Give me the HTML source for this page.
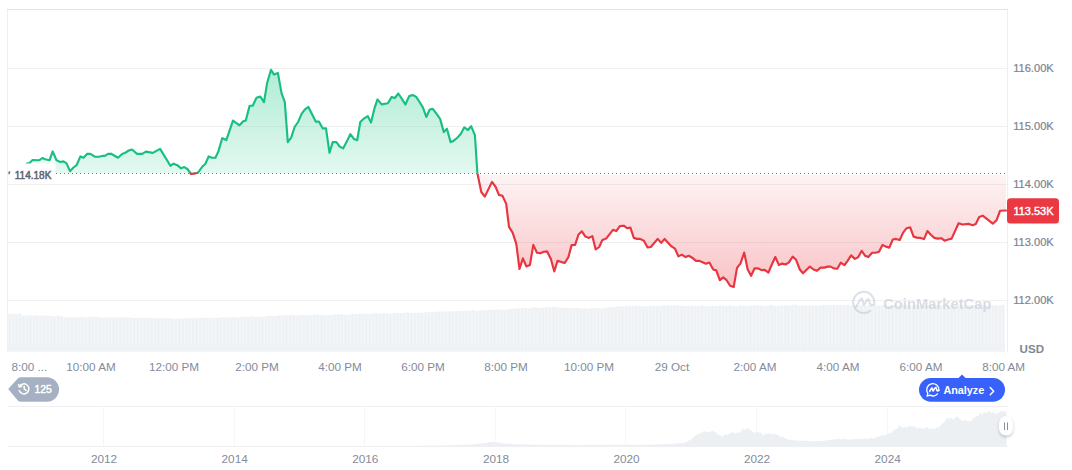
<!DOCTYPE html>
<html><head><meta charset="utf-8"><title>Chart</title>
<style>
html,body{margin:0;padding:0;background:#fff;}
body{width:1072px;height:470px;overflow:hidden;font-family:"Liberation Sans",sans-serif;}
svg{display:block;font-family:"Liberation Sans",sans-serif;}
</style></head><body>
<svg width="1072" height="470" viewBox="0 0 1072 470">
<defs>
<linearGradient id="gg" gradientUnits="userSpaceOnUse" x1="0" y1="68" x2="0" y2="173.6">
<stop offset="0" stop-color="#16c784" stop-opacity="0.34"/><stop offset="1" stop-color="#16c784" stop-opacity="0.12"/></linearGradient>
<linearGradient id="rg" gradientUnits="userSpaceOnUse" x1="0" y1="173.6" x2="0" y2="290">
<stop offset="0" stop-color="#ea3943" stop-opacity="0.055"/><stop offset="1" stop-color="#ea3943" stop-opacity="0.31"/></linearGradient>
<clipPath id="up"><rect x="0" y="0" width="1072" height="173.6"/></clipPath>
<clipPath id="dn"><rect x="0" y="173.6" width="1072" height="300"/></clipPath>
<clipPath id="upa"><rect x="0" y="0" width="1072" height="173"/></clipPath>
<clipPath id="dna"><rect x="0" y="174.7" width="1072" height="300"/></clipPath>
<path id="vol" d="M7.5,351.6 L7.50,314.08 L10.96,314.08 L10.96,313.83 L14.43,313.83 L14.43,314.24 L17.89,314.24 L17.89,313.58 L21.35,313.58 L21.35,315.54 L24.81,315.54 L24.81,315.41 L28.27,315.41 L28.28,315.15 L31.74,315.15 L31.74,315.65 L35.20,315.65 L35.20,315.23 L38.66,315.23 L38.66,315.67 L42.12,315.67 L42.12,315.35 L45.59,315.35 L45.59,315.42 L49.05,315.42 L49.05,315.80 L52.51,315.80 L52.51,316.25 L55.98,316.25 L55.98,315.59 L59.44,315.59 L59.44,316.02 L62.90,316.02 L62.90,317.13 L66.36,317.13 L66.36,317.48 L69.83,317.48 L69.83,317.14 L73.29,317.14 L73.29,317.00 L76.75,317.00 L76.75,317.61 L80.21,317.61 L80.21,316.71 L83.68,316.71 L83.68,317.55 L87.14,317.55 L87.14,317.01 L90.60,317.01 L90.60,316.90 L94.06,316.90 L94.06,316.90 L97.53,316.90 L97.53,317.12 L100.99,317.12 L100.99,317.66 L104.45,317.66 L104.45,317.06 L107.91,317.06 L107.91,317.49 L111.38,317.49 L111.38,317.58 L114.84,317.58 L114.84,317.34 L118.30,317.34 L118.30,317.55 L121.76,317.55 L121.76,317.12 L125.23,317.12 L125.23,317.18 L128.69,317.18 L128.69,317.38 L132.15,317.38 L132.15,317.91 L135.61,317.91 L135.61,317.72 L139.08,317.72 L139.08,317.66 L142.54,317.66 L142.54,317.99 L146.00,317.99 L146.00,317.92 L149.46,317.92 L149.46,317.82 L152.93,317.82 L152.93,318.37 L156.39,318.37 L156.39,318.33 L159.85,318.33 L159.85,317.94 L163.31,317.94 L163.31,318.33 L166.78,318.33 L166.78,318.33 L170.24,318.33 L170.24,318.74 L173.70,318.74 L173.70,318.65 L177.16,318.65 L177.16,318.27 L180.63,318.27 L180.63,318.92 L184.09,318.92 L184.09,317.97 L187.55,317.97 L187.55,318.19 L191.01,318.19 L191.01,318.44 L194.48,318.44 L194.48,317.75 L197.94,317.75 L197.94,318.00 L201.40,318.00 L201.40,317.46 L204.86,317.46 L204.86,318.00 L208.33,318.00 L208.33,318.01 L211.79,318.01 L211.79,317.74 L215.25,317.74 L215.25,317.95 L218.71,317.95 L218.71,317.30 L222.18,317.30 L222.18,317.60 L225.64,317.60 L225.64,317.41 L229.10,317.41 L229.10,317.31 L232.56,317.31 L232.56,317.10 L236.03,317.10 L236.03,317.40 L239.49,317.40 L239.49,317.41 L242.95,317.41 L242.95,316.86 L246.41,316.86 L246.41,316.96 L249.88,316.96 L249.88,316.27 L253.34,316.27 L253.34,316.82 L256.80,316.82 L256.80,316.68 L260.26,316.68 L260.26,316.92 L263.73,316.92 L263.73,316.62 L267.19,316.62 L267.19,315.95 L270.65,315.95 L270.65,315.92 L274.11,315.92 L274.11,316.07 L277.57,316.07 L277.58,315.30 L281.04,315.30 L281.04,315.61 L284.50,315.61 L284.50,315.18 L287.96,315.18 L287.96,315.00 L291.43,315.00 L291.43,314.82 L294.89,314.82 L294.89,315.40 L298.35,315.40 L298.35,314.63 L301.81,314.63 L301.81,314.70 L305.28,314.70 L305.28,314.80 L308.74,314.80 L308.74,315.24 L312.20,315.24 L312.20,314.41 L315.66,314.41 L315.66,314.74 L319.12,314.74 L319.13,314.79 L322.59,314.79 L322.59,315.08 L326.05,315.08 L326.05,314.98 L329.51,314.98 L329.51,314.98 L332.98,314.98 L332.98,314.35 L336.44,314.35 L336.44,314.45 L339.90,314.45 L339.90,314.35 L343.36,314.35 L343.36,314.83 L346.82,314.83 L346.83,314.86 L350.29,314.86 L350.29,314.01 L353.75,314.01 L353.75,313.99 L357.21,313.99 L357.21,313.97 L360.68,313.97 L360.68,313.86 L364.14,313.86 L364.14,314.00 L367.60,314.00 L367.60,313.99 L371.06,313.99 L371.06,313.56 L374.53,313.56 L374.53,313.19 L377.99,313.19 L377.99,313.49 L381.45,313.49 L381.45,313.33 L384.91,313.33 L384.91,313.42 L388.38,313.42 L388.38,313.69 L391.84,313.69 L391.84,313.32 L395.30,313.32 L395.30,313.03 L398.76,313.03 L398.76,313.03 L402.23,313.03 L402.23,312.97 L405.69,312.97 L405.69,312.25 L409.15,312.25 L409.15,313.02 L412.61,313.02 L412.61,312.82 L416.08,312.82 L416.08,312.85 L419.54,312.85 L419.54,312.70 L423.00,312.70 L423.00,312.22 L426.46,312.22 L426.46,312.15 L429.93,312.15 L429.93,311.78 L433.39,311.78 L433.39,312.24 L436.85,312.24 L436.85,311.59 L440.31,311.59 L440.31,311.50 L443.78,311.50 L443.78,311.53 L447.24,311.53 L447.24,311.36 L450.70,311.36 L450.70,311.43 L454.16,311.43 L454.16,311.02 L457.62,311.02 L457.63,310.86 L461.09,310.86 L461.09,310.89 L464.55,310.89 L464.55,310.73 L468.01,310.73 L468.01,310.87 L471.48,310.87 L471.48,310.37 L474.94,310.37 L474.94,311.04 L478.40,311.04 L478.40,310.61 L481.86,310.61 L481.86,309.97 L485.33,309.97 L485.33,309.90 L488.79,309.90 L488.79,309.82 L492.25,309.82 L492.25,309.67 L495.71,309.67 L495.71,309.25 L499.18,309.25 L499.18,309.81 L502.64,309.81 L502.64,309.79 L506.10,309.79 L506.10,309.10 L509.56,309.10 L509.56,308.95 L513.03,308.95 L513.03,308.39 L516.49,308.39 L516.49,308.24 L519.95,308.24 L519.95,308.30 L523.41,308.30 L523.41,308.04 L526.88,308.04 L526.88,308.42 L530.34,308.42 L530.34,307.58 L533.80,307.58 L533.80,307.26 L537.26,307.26 L537.26,308.00 L540.73,308.00 L540.73,307.46 L544.19,307.46 L544.19,306.97 L547.65,306.97 L547.65,307.27 L551.11,307.27 L551.11,306.65 L554.58,306.65 L554.58,307.05 L558.04,307.05 L558.04,307.66 L561.50,307.66 L561.50,307.78 L564.96,307.78 L564.96,307.84 L568.43,307.84 L568.43,307.64 L571.89,307.64 L571.89,307.97 L575.35,307.97 L575.35,307.91 L578.81,307.91 L578.81,308.58 L582.28,308.58 L582.28,308.41 L585.74,308.41 L585.74,308.73 L589.20,308.73 L589.20,308.27 L592.66,308.27 L592.66,307.93 L596.12,307.93 L596.13,308.29 L599.59,308.29 L599.59,308.23 L603.05,308.23 L603.05,307.87 L606.51,307.87 L606.51,307.59 L609.98,307.59 L609.98,307.37 L613.44,307.37 L613.44,307.06 L616.90,307.06 L616.90,306.32 L620.36,306.32 L620.36,306.46 L623.83,306.46 L623.83,306.21 L627.29,306.21 L627.29,305.79 L630.75,305.79 L630.75,305.69 L634.21,305.69 L634.21,305.85 L637.68,305.85 L637.68,305.73 L641.14,305.73 L641.14,306.07 L644.60,306.07 L644.60,306.24 L648.06,306.24 L648.06,305.64 L651.53,305.64 L651.53,306.04 L654.99,306.04 L654.99,306.00 L658.45,306.00 L658.45,305.97 L661.91,305.97 L661.91,305.40 L665.38,305.40 L665.38,305.27 L668.84,305.27 L668.84,305.30 L672.30,305.30 L672.30,305.29 L675.76,305.29 L675.76,305.31 L679.23,305.31 L679.23,305.75 L682.69,305.75 L682.69,306.04 L686.15,306.04 L686.15,306.00 L689.61,306.00 L689.61,305.66 L693.08,305.66 L693.08,305.85 L696.54,305.85 L696.54,306.02 L700.00,306.02 L700.00,305.32 L703.46,305.32 L703.46,305.91 L706.93,305.91 L706.93,306.18 L710.39,306.18 L710.39,306.07 L713.85,306.07 L713.85,306.04 L717.31,306.04 L717.31,305.75 L720.78,305.75 L720.78,305.43 L724.24,305.43 L724.24,306.02 L727.70,306.02 L727.70,305.54 L731.16,305.54 L731.16,305.99 L734.62,305.99 L734.63,306.14 L738.09,306.14 L738.09,305.55 L741.55,305.55 L741.55,305.53 L745.01,305.53 L745.01,306.06 L748.48,306.06 L748.48,305.81 L751.94,305.81 L751.94,305.24 L755.40,305.24 L755.40,305.18 L758.86,305.18 L758.86,305.18 L762.33,305.18 L762.33,305.91 L765.79,305.91 L765.79,305.80 L769.25,305.80 L769.25,305.11 L772.71,305.11 L772.71,305.78 L776.18,305.78 L776.18,305.91 L779.64,305.91 L779.64,305.57 L783.10,305.57 L783.10,305.24 L786.56,305.24 L786.56,305.42 L790.03,305.42 L790.03,304.98 L793.49,304.98 L793.49,304.84 L796.95,304.84 L796.95,305.78 L800.41,305.78 L800.41,305.45 L803.88,305.45 L803.88,305.32 L807.34,305.32 L807.34,305.72 L810.80,305.72 L810.80,305.22 L814.26,305.22 L814.26,305.66 L817.73,305.66 L817.73,305.61 L821.19,305.61 L821.19,304.99 L824.65,304.99 L824.65,305.03 L828.11,305.03 L828.11,305.06 L831.58,305.06 L831.58,305.01 L835.04,305.01 L835.04,305.35 L838.50,305.35 L838.50,305.02 L841.96,305.02 L841.96,305.18 L845.43,305.18 L845.43,304.88 L848.89,304.88 L848.89,305.66 L852.35,305.66 L852.35,305.10 L855.81,305.10 L855.81,305.20 L859.28,305.20 L859.28,305.32 L862.74,305.32 L862.74,305.64 L866.20,305.64 L866.20,305.15 L869.66,305.15 L869.66,305.65 L873.13,305.65 L873.13,305.23 L876.59,305.23 L876.59,305.25 L880.05,305.25 L880.05,305.24 L883.51,305.24 L883.51,304.73 L886.98,304.73 L886.98,305.15 L890.44,305.15 L890.44,304.89 L893.90,304.89 L893.90,304.71 L897.36,304.71 L897.36,305.50 L900.83,305.50 L900.83,304.87 L904.29,304.87 L904.29,305.16 L907.75,305.16 L907.75,305.41 L911.21,305.41 L911.21,305.23 L914.68,305.23 L914.68,304.99 L918.14,304.99 L918.14,305.18 L921.60,305.18 L921.60,305.21 L925.06,305.21 L925.06,305.43 L928.53,305.43 L928.53,304.75 L931.99,304.75 L931.99,305.20 L935.45,305.20 L935.45,304.88 L938.91,304.88 L938.91,304.90 L942.38,304.90 L942.38,305.39 L945.84,305.39 L945.84,305.12 L949.30,305.12 L949.30,305.16 L952.76,305.16 L952.76,305.36 L956.23,305.36 L956.23,305.50 L959.69,305.50 L959.69,305.03 L963.15,305.03 L963.15,305.19 L966.61,305.19 L966.61,305.08 L970.08,305.08 L970.08,305.07 L973.54,305.07 L973.54,305.25 L977.00,305.25 L977.00,305.00 L980.46,305.00 L980.46,305.08 L983.93,305.08 L983.93,305.01 L987.39,305.01 L987.39,305.47 L990.85,305.47 L990.85,305.22 L994.31,305.22 L994.31,305.39 L997.78,305.39 L997.78,305.45 L1001.24,305.45 L1001.24,304.76 L1004.70,304.76 L1004.7,351.6 Z"/>
<pattern id="stripes" x="7.5" y="0" width="3.4625" height="60" patternUnits="userSpaceOnUse"><rect x="0" y="0" width="0.7" height="60" fill="#fff" opacity="0.45"/></pattern>
</defs>
<rect width="1072" height="470" fill="#fff"/>
<!-- frame -->
<g stroke="#f0f0f1" stroke-width="1" shape-rendering="crispEdges">
<line x1="8" x2="1007" y1="68.5" y2="68.5"/>
<line x1="8" x2="1007" y1="126.5" y2="126.5"/>
<line x1="8" x2="1007" y1="184.5" y2="184.5"/>
<line x1="8" x2="1007" y1="242.5" y2="242.5"/>
<line x1="8" x2="1007" y1="300.5" y2="300.5"/>
</g>
<rect x="7" y="9" width="1001" height="1" fill="#e3e3e4"/>
<rect x="7" y="10" width="1" height="342" fill="#eeeeef"/>
<rect x="1007" y="10" width="1" height="342" fill="#eeeeef"/>
<!-- volume -->
<use href="#vol" fill="#eff2f5"/>
<use href="#vol" fill="url(#stripes)"/>
<rect x="8" y="344" width="997" height="7.6" fill="#eff2f5" opacity="0.7"/>
<!-- areas -->
<path id="ar" d="M10,172.2 L11,172 L14.5,171 L18,169.5 L21.5,168 L25.4,165.6 L27.2,163.3 L29.5,163 L32.6,160 L39.5,160.2 L42.4,158 L45,159.2 L49.6,160.2 L52.7,151.4 L56.5,160.2 L60.3,162 L63.4,161.4 L66.6,163.3 L70,171.2 L73.5,167.5 L76.6,165.2 L80.4,156.4 L83.5,157.7 L87.3,153.7 L90.4,153.9 L94.8,156.7 L99.2,156.7 L103,155.8 L104.9,155.8 L108,153.9 L111.1,153.7 L118,157.7 L122.4,153.7 L124.3,153.3 L128.7,150.5 L131.9,149.5 L134,151.2 L137.1,153.9 L142.2,153.9 L145.9,151.6 L152.8,152.9 L160.1,148.9 L170.4,165.8 L173.6,163.7 L177.3,165.2 L181.1,168.3 L184.2,167.1 L187.4,169 L191.1,174 L196.8,173 L198,172.7 L202.4,166.5 L205.3,164 L208.7,156.4 L211.9,157.7 L215.4,157.7 L218.4,151.4 L222.2,138.2 L226.3,140.1 L233,120.6 L239.5,125.3 L243.3,121.3 L245.8,120.4 L249.6,105.7 L252.7,105.7 L256.5,97.8 L260.3,96.5 L264,102.2 L267.2,82.7 L271,69.8 L274.1,74.6 L277.9,73 L281.6,93.4 L284.8,102.2 L287.8,142.1 L291.2,137.7 L294.6,127 L298.1,122 L301.7,113.6 L305,109.4 L308.4,106.9 L315.7,121.6 L318.9,121.6 L322.6,128.3 L326,128.3 L329.5,152.8 L332.7,142.1 L336.4,142.1 L339.6,146.5 L343.1,148.4 L346.5,142.1 L350.3,134.2 L354,139 L357.2,140.2 L360.3,122 L363.4,118.9 L367.8,116.1 L371,122.6 L374.5,108.2 L377.5,99.4 L381.6,104.4 L387.9,103.2 L391.7,96.9 L394.8,98.1 L398.3,93.5 L401.4,98.2 L405.4,104.5 L409.2,96.1 L412.7,95 L416.2,96.9 L419.6,102 L423,107.6 L426.3,117 L429.7,109.5 L432.8,108.9 L436.6,113.9 L440.1,118.9 L443.8,132.1 L446.9,128.7 L450.6,142.1 L453.5,140.9 L457.3,137.7 L460.7,134 L464.2,127.4 L468,130 L471.1,126.2 L474.9,135.2 L477.4,173.3 L481.3,192 L484.8,196.6 L492,181.9 L495.7,187 L498.9,194.9 L502.4,195.7 L506.2,203.9 L509,226.9 L512.6,232.6 L516.3,243.9 L519.5,269 L522.9,258.3 L526.4,266.5 L529.9,265 L533.3,244.9 L537,252.7 L540.2,253.3 L544,251.7 L547.1,251.4 L550.9,259 L554.3,271.5 L557.5,260.8 L561.5,262.1 L564.7,263 L568.4,257.1 L571.6,245.1 L575.1,244.9 L578.5,234.5 L581.9,231.3 L585.4,236.6 L588.9,237.9 L592.3,236.1 L595.7,249.5 L599.2,247 L602.4,239.9 L606.1,238.6 L613,229.8 L616.2,231.1 L619.9,226.1 L623.7,225.7 L627.1,228.2 L630.4,227.6 L633.8,237.9 L637,238.9 L640.1,238.9 L643.9,240.7 L647.6,247.4 L650.8,247 L657.7,238.9 L661.2,242.9 L664.6,238.9 L671.5,246.4 L675,248.7 L678.4,256.4 L681.8,254.6 L685.6,257.1 L688.8,255.8 L692.2,257.7 L696,260.8 L699.1,260.8 L706,263.7 L709.4,262.5 L713.2,269.5 L716.3,270.4 L719.8,280.2 L723.2,277.4 L726.6,280.2 L730.1,285.8 L733.7,287.1 L737,267.9 L740.4,263.6 L744.2,252.6 L747.7,269.5 L751.1,275.8 L754.6,268.3 L757.8,268.3 L761.5,270.1 L764.7,269.9 L768.4,272.7 L771.8,264.5 L775.3,257 L778.9,265.1 L782.3,263.6 L785.6,264.5 L788.9,262.4 L792.7,256.6 L796.1,259.8 L799.8,269.5 L803,273.3 L809.9,266.6 L813.6,269.5 L817,270.8 L820.6,267.6 L824.3,267.6 L827.5,266.6 L830.6,266.6 L833.8,268.4 L837.3,268.7 L840.7,262.7 L844.5,265.2 L847.6,260.8 L851.1,255.4 L854.9,258.9 L858.3,257.1 L861.7,250.8 L865.2,255.8 L868.3,257.1 L872.1,252.7 L875.5,252.7 L879,251.7 L882.5,244.9 L885.9,246.6 L889.3,247.6 L892.8,239.5 L896,238.9 L899.7,240.1 L903.1,232.6 L906.6,228.2 L910.2,227.3 L913.6,236.6 L916.9,237.6 L920.5,237.9 L924,239.1 L927.4,231.1 L930.8,234.8 L934.3,237.9 L937.8,238.6 L941.2,238.2 L944.6,240.7 L948.1,239.5 L951.6,238.6 L958.6,223.3 L962.4,224.5 L968.9,223.9 L972.7,225.2 L975.8,223.9 L979.2,217 L982.7,215.7 L992.8,223.7 L996.6,220.1 L1000.1,210.7 L1006,210.5 L1006,173.6 L10,173.6 Z" fill="url(#gg)" clip-path="url(#upa)"/>
<path d="M10,172.2 L11,172 L14.5,171 L18,169.5 L21.5,168 L25.4,165.6 L27.2,163.3 L29.5,163 L32.6,160 L39.5,160.2 L42.4,158 L45,159.2 L49.6,160.2 L52.7,151.4 L56.5,160.2 L60.3,162 L63.4,161.4 L66.6,163.3 L70,171.2 L73.5,167.5 L76.6,165.2 L80.4,156.4 L83.5,157.7 L87.3,153.7 L90.4,153.9 L94.8,156.7 L99.2,156.7 L103,155.8 L104.9,155.8 L108,153.9 L111.1,153.7 L118,157.7 L122.4,153.7 L124.3,153.3 L128.7,150.5 L131.9,149.5 L134,151.2 L137.1,153.9 L142.2,153.9 L145.9,151.6 L152.8,152.9 L160.1,148.9 L170.4,165.8 L173.6,163.7 L177.3,165.2 L181.1,168.3 L184.2,167.1 L187.4,169 L191.1,174 L196.8,173 L198,172.7 L202.4,166.5 L205.3,164 L208.7,156.4 L211.9,157.7 L215.4,157.7 L218.4,151.4 L222.2,138.2 L226.3,140.1 L233,120.6 L239.5,125.3 L243.3,121.3 L245.8,120.4 L249.6,105.7 L252.7,105.7 L256.5,97.8 L260.3,96.5 L264,102.2 L267.2,82.7 L271,69.8 L274.1,74.6 L277.9,73 L281.6,93.4 L284.8,102.2 L287.8,142.1 L291.2,137.7 L294.6,127 L298.1,122 L301.7,113.6 L305,109.4 L308.4,106.9 L315.7,121.6 L318.9,121.6 L322.6,128.3 L326,128.3 L329.5,152.8 L332.7,142.1 L336.4,142.1 L339.6,146.5 L343.1,148.4 L346.5,142.1 L350.3,134.2 L354,139 L357.2,140.2 L360.3,122 L363.4,118.9 L367.8,116.1 L371,122.6 L374.5,108.2 L377.5,99.4 L381.6,104.4 L387.9,103.2 L391.7,96.9 L394.8,98.1 L398.3,93.5 L401.4,98.2 L405.4,104.5 L409.2,96.1 L412.7,95 L416.2,96.9 L419.6,102 L423,107.6 L426.3,117 L429.7,109.5 L432.8,108.9 L436.6,113.9 L440.1,118.9 L443.8,132.1 L446.9,128.7 L450.6,142.1 L453.5,140.9 L457.3,137.7 L460.7,134 L464.2,127.4 L468,130 L471.1,126.2 L474.9,135.2 L477.4,173.3 L481.3,192 L484.8,196.6 L492,181.9 L495.7,187 L498.9,194.9 L502.4,195.7 L506.2,203.9 L509,226.9 L512.6,232.6 L516.3,243.9 L519.5,269 L522.9,258.3 L526.4,266.5 L529.9,265 L533.3,244.9 L537,252.7 L540.2,253.3 L544,251.7 L547.1,251.4 L550.9,259 L554.3,271.5 L557.5,260.8 L561.5,262.1 L564.7,263 L568.4,257.1 L571.6,245.1 L575.1,244.9 L578.5,234.5 L581.9,231.3 L585.4,236.6 L588.9,237.9 L592.3,236.1 L595.7,249.5 L599.2,247 L602.4,239.9 L606.1,238.6 L613,229.8 L616.2,231.1 L619.9,226.1 L623.7,225.7 L627.1,228.2 L630.4,227.6 L633.8,237.9 L637,238.9 L640.1,238.9 L643.9,240.7 L647.6,247.4 L650.8,247 L657.7,238.9 L661.2,242.9 L664.6,238.9 L671.5,246.4 L675,248.7 L678.4,256.4 L681.8,254.6 L685.6,257.1 L688.8,255.8 L692.2,257.7 L696,260.8 L699.1,260.8 L706,263.7 L709.4,262.5 L713.2,269.5 L716.3,270.4 L719.8,280.2 L723.2,277.4 L726.6,280.2 L730.1,285.8 L733.7,287.1 L737,267.9 L740.4,263.6 L744.2,252.6 L747.7,269.5 L751.1,275.8 L754.6,268.3 L757.8,268.3 L761.5,270.1 L764.7,269.9 L768.4,272.7 L771.8,264.5 L775.3,257 L778.9,265.1 L782.3,263.6 L785.6,264.5 L788.9,262.4 L792.7,256.6 L796.1,259.8 L799.8,269.5 L803,273.3 L809.9,266.6 L813.6,269.5 L817,270.8 L820.6,267.6 L824.3,267.6 L827.5,266.6 L830.6,266.6 L833.8,268.4 L837.3,268.7 L840.7,262.7 L844.5,265.2 L847.6,260.8 L851.1,255.4 L854.9,258.9 L858.3,257.1 L861.7,250.8 L865.2,255.8 L868.3,257.1 L872.1,252.7 L875.5,252.7 L879,251.7 L882.5,244.9 L885.9,246.6 L889.3,247.6 L892.8,239.5 L896,238.9 L899.7,240.1 L903.1,232.6 L906.6,228.2 L910.2,227.3 L913.6,236.6 L916.9,237.6 L920.5,237.9 L924,239.1 L927.4,231.1 L930.8,234.8 L934.3,237.9 L937.8,238.6 L941.2,238.2 L944.6,240.7 L948.1,239.5 L951.6,238.6 L958.6,223.3 L962.4,224.5 L968.9,223.9 L972.7,225.2 L975.8,223.9 L979.2,217 L982.7,215.7 L992.8,223.7 L996.6,220.1 L1000.1,210.7 L1006,210.5 L1006,173.6 L10,173.6 Z" fill="url(#rg)" clip-path="url(#dna)"/>
<rect x="8" y="150" width="47.5" height="15" fill="#fff" opacity="0.5"/>
<!-- baseline dotted -->
<line x1="8" x2="1006" y1="173.5" y2="173.5" stroke="#74777f" stroke-width="1" stroke-dasharray="1 3" shape-rendering="crispEdges"/>
<!-- lines -->
<path d="M10,172.2 L11,172 L14.5,171 L18,169.5 L21.5,168 L25.4,165.6 L27.2,163.3 L29.5,163 L32.6,160 L39.5,160.2 L42.4,158 L45,159.2 L49.6,160.2 L52.7,151.4 L56.5,160.2 L60.3,162 L63.4,161.4 L66.6,163.3 L70,171.2 L73.5,167.5 L76.6,165.2 L80.4,156.4 L83.5,157.7 L87.3,153.7 L90.4,153.9 L94.8,156.7 L99.2,156.7 L103,155.8 L104.9,155.8 L108,153.9 L111.1,153.7 L118,157.7 L122.4,153.7 L124.3,153.3 L128.7,150.5 L131.9,149.5 L134,151.2 L137.1,153.9 L142.2,153.9 L145.9,151.6 L152.8,152.9 L160.1,148.9 L170.4,165.8 L173.6,163.7 L177.3,165.2 L181.1,168.3 L184.2,167.1 L187.4,169 L191.1,174 L196.8,173 L198,172.7 L202.4,166.5 L205.3,164 L208.7,156.4 L211.9,157.7 L215.4,157.7 L218.4,151.4 L222.2,138.2 L226.3,140.1 L233,120.6 L239.5,125.3 L243.3,121.3 L245.8,120.4 L249.6,105.7 L252.7,105.7 L256.5,97.8 L260.3,96.5 L264,102.2 L267.2,82.7 L271,69.8 L274.1,74.6 L277.9,73 L281.6,93.4 L284.8,102.2 L287.8,142.1 L291.2,137.7 L294.6,127 L298.1,122 L301.7,113.6 L305,109.4 L308.4,106.9 L315.7,121.6 L318.9,121.6 L322.6,128.3 L326,128.3 L329.5,152.8 L332.7,142.1 L336.4,142.1 L339.6,146.5 L343.1,148.4 L346.5,142.1 L350.3,134.2 L354,139 L357.2,140.2 L360.3,122 L363.4,118.9 L367.8,116.1 L371,122.6 L374.5,108.2 L377.5,99.4 L381.6,104.4 L387.9,103.2 L391.7,96.9 L394.8,98.1 L398.3,93.5 L401.4,98.2 L405.4,104.5 L409.2,96.1 L412.7,95 L416.2,96.9 L419.6,102 L423,107.6 L426.3,117 L429.7,109.5 L432.8,108.9 L436.6,113.9 L440.1,118.9 L443.8,132.1 L446.9,128.7 L450.6,142.1 L453.5,140.9 L457.3,137.7 L460.7,134 L464.2,127.4 L468,130 L471.1,126.2 L474.9,135.2 L477.4,173.3 L481.3,192 L484.8,196.6 L492,181.9 L495.7,187 L498.9,194.9 L502.4,195.7 L506.2,203.9 L509,226.9 L512.6,232.6 L516.3,243.9 L519.5,269 L522.9,258.3 L526.4,266.5 L529.9,265 L533.3,244.9 L537,252.7 L540.2,253.3 L544,251.7 L547.1,251.4 L550.9,259 L554.3,271.5 L557.5,260.8 L561.5,262.1 L564.7,263 L568.4,257.1 L571.6,245.1 L575.1,244.9 L578.5,234.5 L581.9,231.3 L585.4,236.6 L588.9,237.9 L592.3,236.1 L595.7,249.5 L599.2,247 L602.4,239.9 L606.1,238.6 L613,229.8 L616.2,231.1 L619.9,226.1 L623.7,225.7 L627.1,228.2 L630.4,227.6 L633.8,237.9 L637,238.9 L640.1,238.9 L643.9,240.7 L647.6,247.4 L650.8,247 L657.7,238.9 L661.2,242.9 L664.6,238.9 L671.5,246.4 L675,248.7 L678.4,256.4 L681.8,254.6 L685.6,257.1 L688.8,255.8 L692.2,257.7 L696,260.8 L699.1,260.8 L706,263.7 L709.4,262.5 L713.2,269.5 L716.3,270.4 L719.8,280.2 L723.2,277.4 L726.6,280.2 L730.1,285.8 L733.7,287.1 L737,267.9 L740.4,263.6 L744.2,252.6 L747.7,269.5 L751.1,275.8 L754.6,268.3 L757.8,268.3 L761.5,270.1 L764.7,269.9 L768.4,272.7 L771.8,264.5 L775.3,257 L778.9,265.1 L782.3,263.6 L785.6,264.5 L788.9,262.4 L792.7,256.6 L796.1,259.8 L799.8,269.5 L803,273.3 L809.9,266.6 L813.6,269.5 L817,270.8 L820.6,267.6 L824.3,267.6 L827.5,266.6 L830.6,266.6 L833.8,268.4 L837.3,268.7 L840.7,262.7 L844.5,265.2 L847.6,260.8 L851.1,255.4 L854.9,258.9 L858.3,257.1 L861.7,250.8 L865.2,255.8 L868.3,257.1 L872.1,252.7 L875.5,252.7 L879,251.7 L882.5,244.9 L885.9,246.6 L889.3,247.6 L892.8,239.5 L896,238.9 L899.7,240.1 L903.1,232.6 L906.6,228.2 L910.2,227.3 L913.6,236.6 L916.9,237.6 L920.5,237.9 L924,239.1 L927.4,231.1 L930.8,234.8 L934.3,237.9 L937.8,238.6 L941.2,238.2 L944.6,240.7 L948.1,239.5 L951.6,238.6 L958.6,223.3 L962.4,224.5 L968.9,223.9 L972.7,225.2 L975.8,223.9 L979.2,217 L982.7,215.7 L992.8,223.7 L996.6,220.1 L1000.1,210.7 L1006,210.5" fill="none" stroke="#17c081" stroke-width="2.15" stroke-linejoin="round" stroke-linecap="round" clip-path="url(#up)"/>
<path d="M10,172.2 L11,172 L14.5,171 L18,169.5 L21.5,168 L25.4,165.6 L27.2,163.3 L29.5,163 L32.6,160 L39.5,160.2 L42.4,158 L45,159.2 L49.6,160.2 L52.7,151.4 L56.5,160.2 L60.3,162 L63.4,161.4 L66.6,163.3 L70,171.2 L73.5,167.5 L76.6,165.2 L80.4,156.4 L83.5,157.7 L87.3,153.7 L90.4,153.9 L94.8,156.7 L99.2,156.7 L103,155.8 L104.9,155.8 L108,153.9 L111.1,153.7 L118,157.7 L122.4,153.7 L124.3,153.3 L128.7,150.5 L131.9,149.5 L134,151.2 L137.1,153.9 L142.2,153.9 L145.9,151.6 L152.8,152.9 L160.1,148.9 L170.4,165.8 L173.6,163.7 L177.3,165.2 L181.1,168.3 L184.2,167.1 L187.4,169 L191.1,174 L196.8,173 L198,172.7 L202.4,166.5 L205.3,164 L208.7,156.4 L211.9,157.7 L215.4,157.7 L218.4,151.4 L222.2,138.2 L226.3,140.1 L233,120.6 L239.5,125.3 L243.3,121.3 L245.8,120.4 L249.6,105.7 L252.7,105.7 L256.5,97.8 L260.3,96.5 L264,102.2 L267.2,82.7 L271,69.8 L274.1,74.6 L277.9,73 L281.6,93.4 L284.8,102.2 L287.8,142.1 L291.2,137.7 L294.6,127 L298.1,122 L301.7,113.6 L305,109.4 L308.4,106.9 L315.7,121.6 L318.9,121.6 L322.6,128.3 L326,128.3 L329.5,152.8 L332.7,142.1 L336.4,142.1 L339.6,146.5 L343.1,148.4 L346.5,142.1 L350.3,134.2 L354,139 L357.2,140.2 L360.3,122 L363.4,118.9 L367.8,116.1 L371,122.6 L374.5,108.2 L377.5,99.4 L381.6,104.4 L387.9,103.2 L391.7,96.9 L394.8,98.1 L398.3,93.5 L401.4,98.2 L405.4,104.5 L409.2,96.1 L412.7,95 L416.2,96.9 L419.6,102 L423,107.6 L426.3,117 L429.7,109.5 L432.8,108.9 L436.6,113.9 L440.1,118.9 L443.8,132.1 L446.9,128.7 L450.6,142.1 L453.5,140.9 L457.3,137.7 L460.7,134 L464.2,127.4 L468,130 L471.1,126.2 L474.9,135.2 L477.4,173.3 L481.3,192 L484.8,196.6 L492,181.9 L495.7,187 L498.9,194.9 L502.4,195.7 L506.2,203.9 L509,226.9 L512.6,232.6 L516.3,243.9 L519.5,269 L522.9,258.3 L526.4,266.5 L529.9,265 L533.3,244.9 L537,252.7 L540.2,253.3 L544,251.7 L547.1,251.4 L550.9,259 L554.3,271.5 L557.5,260.8 L561.5,262.1 L564.7,263 L568.4,257.1 L571.6,245.1 L575.1,244.9 L578.5,234.5 L581.9,231.3 L585.4,236.6 L588.9,237.9 L592.3,236.1 L595.7,249.5 L599.2,247 L602.4,239.9 L606.1,238.6 L613,229.8 L616.2,231.1 L619.9,226.1 L623.7,225.7 L627.1,228.2 L630.4,227.6 L633.8,237.9 L637,238.9 L640.1,238.9 L643.9,240.7 L647.6,247.4 L650.8,247 L657.7,238.9 L661.2,242.9 L664.6,238.9 L671.5,246.4 L675,248.7 L678.4,256.4 L681.8,254.6 L685.6,257.1 L688.8,255.8 L692.2,257.7 L696,260.8 L699.1,260.8 L706,263.7 L709.4,262.5 L713.2,269.5 L716.3,270.4 L719.8,280.2 L723.2,277.4 L726.6,280.2 L730.1,285.8 L733.7,287.1 L737,267.9 L740.4,263.6 L744.2,252.6 L747.7,269.5 L751.1,275.8 L754.6,268.3 L757.8,268.3 L761.5,270.1 L764.7,269.9 L768.4,272.7 L771.8,264.5 L775.3,257 L778.9,265.1 L782.3,263.6 L785.6,264.5 L788.9,262.4 L792.7,256.6 L796.1,259.8 L799.8,269.5 L803,273.3 L809.9,266.6 L813.6,269.5 L817,270.8 L820.6,267.6 L824.3,267.6 L827.5,266.6 L830.6,266.6 L833.8,268.4 L837.3,268.7 L840.7,262.7 L844.5,265.2 L847.6,260.8 L851.1,255.4 L854.9,258.9 L858.3,257.1 L861.7,250.8 L865.2,255.8 L868.3,257.1 L872.1,252.7 L875.5,252.7 L879,251.7 L882.5,244.9 L885.9,246.6 L889.3,247.6 L892.8,239.5 L896,238.9 L899.7,240.1 L903.1,232.6 L906.6,228.2 L910.2,227.3 L913.6,236.6 L916.9,237.6 L920.5,237.9 L924,239.1 L927.4,231.1 L930.8,234.8 L934.3,237.9 L937.8,238.6 L941.2,238.2 L944.6,240.7 L948.1,239.5 L951.6,238.6 L958.6,223.3 L962.4,224.5 L968.9,223.9 L972.7,225.2 L975.8,223.9 L979.2,217 L982.7,215.7 L992.8,223.7 L996.6,220.1 L1000.1,210.7 L1006,210.5" fill="none" stroke="#e8353f" stroke-width="2.15" stroke-linejoin="round" stroke-linecap="round" clip-path="url(#dn)"/>
<path d="M190.6,173.4 L191.3,174 L196.7,173.2 L197.3,173" fill="none" stroke="#d8404b" stroke-width="1.8" stroke-linejoin="round" stroke-linecap="round"/>
<!-- open label -->
<rect x="8" y="163.6" width="47.5" height="19.9" rx="2" fill="#fff"/>
<path d="M8.6,171.4 L10.6,171.4 L9.4,174.2 L8.3,174.2 Z" fill="#5f6674"/>
<text x="14.8" y="178.8" font-size="10" fill="#5f6674" stroke="#5f6674" stroke-width="0.5">114.18K</text>
<!-- y labels -->
<g font-size="11.1" fill="#7b8392" stroke="#7b8392" stroke-width="0.2">
<text x="1013.2" y="72">116.00K</text>
<text x="1013.2" y="130">115.00K</text>
<text x="1013.2" y="188">114.00K</text>
<text x="1013.2" y="246">113.00K</text>
<text x="1013.2" y="304">112.00K</text>
</g>
<!-- price tag -->
<rect x="1007" y="198.3" width="52" height="25.3" rx="3.5" fill="#ea3943"/>
<text x="1013.4" y="215.2" font-size="11" fill="#fff" stroke="#fff" stroke-width="0.4">113.53K</text>
<!-- watermark -->
<g opacity="0.58" fill="none" stroke="#c3cad6" stroke-linecap="round" stroke-linejoin="round">
<path d="M874.2,304.3 A10.6,10.6 0 1 0 870.4,310.7" stroke-width="2"/>
<path d="M855.6,307.6 L860.6,299.3 Q861.7,297.6 862.3,299.6 L863.8,305.2 L866.9,300.2 Q868.2,298.2 869,300.6 L870.2,304.2 Q870.9,306 872.4,305.2 L874.2,304.3" stroke-width="2"/>
</g>
<text x="883.2" y="308.9" font-size="14.8" font-weight="bold" fill="#c3cad6" opacity="0.62" textLength="108.3" lengthAdjust="spacingAndGlyphs">CoinMarketCap</text>
<!-- USD -->
<text x="1019.6" y="352.9" font-size="11.3" font-weight="bold" fill="#7f8797" textLength="24.4" lengthAdjust="spacingAndGlyphs">USD</text>
<!-- x labels -->
<g font-size="11.7" fill="#848b99">
<text x="11.5" y="371">8:00 ...</text>
<text x="91" y="371" text-anchor="middle">10:00 AM</text>
<text x="174" y="371" text-anchor="middle">12:00 PM</text>
<text x="257" y="371" text-anchor="middle">2:00 PM</text>
<text x="340" y="371" text-anchor="middle">4:00 PM</text>
<text x="423" y="371" text-anchor="middle">6:00 PM</text>
<text x="506" y="371" text-anchor="middle">8:00 PM</text>
<text x="589" y="371" text-anchor="middle">10:00 PM</text>
<text x="672" y="371" text-anchor="middle">29 Oct</text>
<text x="755" y="371" text-anchor="middle">2:00 AM</text>
<text x="838" y="371" text-anchor="middle">4:00 AM</text>
<text x="921" y="371" text-anchor="middle">6:00 AM</text>
<text x="1003.6" y="371" text-anchor="middle">8:00 AM</text>
</g>
<!-- badge -->
<path d="M8.2,388.9 L17.8,378.5 Q18.8,377.3 21,377.3 L46.8,377.3 A12.2,12.2 0 0 1 46.8,401.7 L21,401.7 Q18.8,401.7 17.8,400.5 Z" fill="#a6b0c3"/>
<g fill="none" stroke="#fff" stroke-width="1.5" stroke-linecap="round" stroke-linejoin="round">
<path d="M19.6,386.3 A5,5 0 1 1 19.2,390.6"/>
<path d="M18.6,384.6 L19.4,386.9 L21.7,386.3"/>
<path d="M24.2,386.2 L24.2,389 L26.2,390.4"/>
</g>
<text x="34.5" y="392.8" font-size="10.4" fill="#fff" stroke="#fff" stroke-width="0.45">125</text>
<!-- analyze -->
<path d="M958,378.5 L962,374.4 L966,378.5 Z" fill="#3861fb"/>
<rect x="919" y="378" width="86" height="23.7" rx="11.85" fill="#3861fb"/>
<g fill="none" stroke="#fff" stroke-width="1.3" stroke-linecap="round" stroke-linejoin="round">
<path d="M938.9,390.3 A6.1,6.1 0 1 0 927.9,393.4 L927,396.1 L930.3,395.2 A6.1,6.1 0 0 0 937.5,393.9" stroke-width="1.35"/>
<path d="M929.7,391.3 L931.9,387.9 L933.1,391 L935.1,387.8 Q936,386.9 936.4,388.5 L936.9,390.3 Q937.4,391.4 938.9,390.3" stroke-width="1.6"/>
</g>
<text x="943.4" y="393.8" font-size="10.4" font-weight="bold" fill="#fff" textLength="40.9" lengthAdjust="spacingAndGlyphs">Analyze</text>
<path d="M990.2,387.6 L993.7,391.2 L990.2,394.8" fill="none" stroke="#fff" stroke-width="1.5" stroke-linecap="round" stroke-linejoin="round"/>
<!-- navigator -->
<rect x="8" y="406" width="1000" height="1" fill="#f0f0f2"/>
<rect x="8" y="446" width="1000" height="1" fill="#eef0f3"/>
<g stroke="#f4f6f8" stroke-width="1" shape-rendering="crispEdges">
<line x1="103.5" x2="103.5" y1="407" y2="446"/>
<line x1="234.5" x2="234.5" y1="407" y2="446"/>
<line x1="364.5" x2="364.5" y1="407" y2="446"/>
<line x1="495.5" x2="495.5" y1="407" y2="446"/>
<line x1="625.5" x2="625.5" y1="407" y2="446"/>
<line x1="756.5" x2="756.5" y1="407" y2="446"/>
<line x1="887.5" x2="887.5" y1="407" y2="446"/>
</g>
<path d="M8,446.5 L8,446.3 L300,446.3 L380,446.1 L440,445.57 L441.3,445.56 L442.6,445.49 L443.9,445.49 L445.2,445.45 L446.5,445.31 L447.8,445.26 L449.1,445.36 L450.4,445.21 L451.7,445.16 L453,445.27 L454.3,445.12 L455.6,445.15 L456.9,445.03 L458.2,445.03 L459.5,444.87 L460.8,444.94 L462.1,444.96 L463.4,444.83 L464.7,444.84 L466,444.78 L467.3,444.56 L468.6,444.72 L469.9,444.63 L471.2,444.41 L472.5,444.17 L473.8,444.33 L475.1,444.04 L476.4,444.01 L477.7,443.95 L479,443.74 L480.3,443.71 L481.6,443.31 L482.9,443.39 L484.2,443.05 L485.5,443.18 L486.8,442.94 L488.1,442.19 L489.4,441.98 L490.7,441.8 L492,442.18 L493.3,441.93 L494.6,442.26 L495.9,442.2 L497.2,442.53 L498.5,442.61 L499.8,442.76 L501.1,443.06 L502.4,443.22 L503.7,443.55 L505,443.59 L506.3,443.78 L507.6,443.81 L508.9,443.94 L510.2,443.86 L511.5,443.7 L512.8,444.07 L514.1,444.18 L515.4,444.22 L516.7,444.15 L518,444.27 L519.3,444.16 L520.6,444.43 L521.9,444.36 L523.2,444.29 L524.5,444.24 L525.8,444.54 L527.1,444.61 L528.4,444.33 L529.7,444.59 L531,444.49 L532.3,444.44 L533.6,444.51 L534.9,444.68 L536.2,444.74 L537.5,444.51 L538.8,444.71 L540.1,444.57 L541.4,444.79 L542.7,444.71 L544,444.88 L545.3,444.93 L546.6,444.82 L547.9,444.96 L549.2,444.8 L550.5,444.75 L551.8,444.9 L553.1,444.77 L554.4,444.83 L555.7,444.9 L557,444.96 L558.3,444.87 L559.6,444.86 L560.9,445.07 L562.2,444.95 L563.5,445.12 L564.8,445.12 L566.1,445.01 L567.4,445.05 L568.7,445.08 L570,445.12 L571.3,445.12 L572.6,445.13 L573.9,445.16 L575.2,445.24 L576.5,445.16 L577.8,445.16 L579.1,445.23 L580.4,445.14 L581.7,445.14 L583,445.27 L584.3,445.16 L585.6,445.15 L586.9,445.03 L588.2,445.1 L589.5,445.12 L590.8,444.99 L592.1,445.1 L593.4,445.1 L594.7,444.95 L596,445.07 L597.3,445.02 L598.6,445.06 L599.9,444.97 L601.2,445.03 L602.5,445.02 L603.8,444.82 L605.1,444.81 L606.4,444.94 L607.7,445 L609,444.79 L610.3,444.82 L611.6,444.84 L612.9,444.74 L614.2,444.74 L615.5,444.7 L616.8,444.69 L618.1,444.74 L619.4,444.63 L620.7,444.63 L622,444.73 L623.3,444.48 L624.6,444.63 L625.9,444.69 L627.2,444.6 L628.5,444.61 L629.8,444.81 L631.1,444.69 L632.4,444.71 L633.7,444.81 L635,444.92 L636.3,444.8 L637.6,444.89 L638.9,444.93 L640.2,445.07 L641.5,444.94 L642.8,445 L644.1,444.78 L645.4,444.78 L646.7,444.82 L648,444.84 L649.3,444.68 L650.6,444.56 L651.9,444.49 L653.2,444.57 L654.5,444.42 L655.8,444.57 L657.1,444.54 L658.4,444.27 L659.7,444.26 L661,444.4 L662.3,444.3 L663.6,444.31 L664.9,444.09 L666.2,443.96 L667.5,443.98 L668.8,444.14 L670.1,443.88 L671.4,443.86 L672.7,443.84 L674,443.8 L675.3,443.72 L676.6,443.8 L677.9,443.24 L679.2,442.98 L680.5,443.34 L681.8,443.15 L683.1,443.06 L684.4,442.53 L685.7,442.49 L687,441.87 L688.3,440.58 L689.6,440.47 L690.9,439.71 L692.2,438.48 L693.5,437.23 L694.8,435.77 L696.1,435.14 L697.4,434.24 L698.7,433.21 L700,433.7 L701.3,432.33 L702.6,432.99 L703.9,430.34 L705.2,432.09 L706.5,431.39 L707.8,431.91 L709.1,431.71 L710.4,431.75 L711.7,431.22 L713,430.09 L714.3,432.43 L715.6,431.68 L716.9,433.13 L718.2,434.92 L719.5,435.11 L720.8,435.38 L722.1,436.79 L723.4,435.8 L724.7,434.87 L726,434.29 L727.3,435.16 L728.6,433.81 L729.9,434 L731.2,432.46 L732.5,431.8 L733.8,432.76 L735.1,433.58 L736.4,432.15 L737.7,433.28 L739,432.85 L740.3,431.78 L741.6,431.23 L742.9,428.4 L744.2,429.8 L745.5,430.1 L746.8,427.64 L748.1,428.74 L749.4,429.13 L750.7,430.52 L752,431.04 L753.3,431.99 L754.6,433.28 L755.9,431.61 L757.2,431.97 L758.5,432.37 L759.8,432.6 L761.1,432.74 L762.4,435.03 L763.7,435.01 L765,433.62 L766.3,434.24 L767.6,433.57 L768.9,433.3 L770.2,433.2 L771.5,434.13 L772.8,434.25 L774.1,434.02 L775.4,433.97 L776.7,434.66 L778,434.66 L779.3,435.9 L780.6,436.67 L781.9,436.68 L783.2,436.83 L784.5,437.63 L785.8,438.53 L787.1,439.17 L788.4,439.67 L789.7,439.45 L791,440.22 L792.3,440.29 L793.6,440.25 L794.9,440.25 L796.2,440.43 L797.5,440.7 L798.8,440.47 L800.1,440.8 L801.4,440.63 L802.7,440.48 L804,440.84 L805.3,441.06 L806.6,440.52 L807.9,440.92 L809.2,440.99 L810.5,441.48 L811.8,441.59 L813.1,441.06 L814.4,441.51 L815.7,441.38 L817,440.85 L818.3,441.01 L819.6,440.65 L820.9,441.2 L822.2,440.91 L823.5,440.99 L824.8,440.75 L826.1,440.47 L827.4,440.45 L828.7,440.16 L830,439.53 L831.3,439.98 L832.6,439.2 L833.9,439.25 L835.2,439.91 L836.5,438.92 L837.8,438.86 L839.1,438.76 L840.4,439.68 L841.7,438.77 L843,438.55 L844.3,439.58 L845.6,438.64 L846.9,439.55 L848.2,439.32 L849.5,439.51 L850.8,439.65 L852.1,439.14 L853.4,439.41 L854.7,438.39 L856,439.33 L857.3,438.97 L858.6,439.21 L859.9,438.38 L861.2,439.21 L862.5,439.43 L863.8,438.23 L865.1,438.56 L866.4,438.83 L867.7,439.14 L869,438.29 L870.3,438.15 L871.6,438.19 L872.9,438.61 L874.2,438.46 L875.5,437.57 L876.8,437.16 L878.1,436.85 L879.4,436.4 L880.7,436.13 L882,435.09 L883.3,435.47 L884.6,436.02 L885.9,434.47 L887.2,434.79 L888.5,432.93 L889.8,433.38 L891.1,432.79 L892.4,431.83 L893.7,430.51 L895,429.42 L896.3,428.93 L897.6,428.75 L898.9,425.35 L900.2,425.23 L901.5,427.44 L902.8,428.11 L904.1,426.97 L905.4,426.81 L906.7,427.68 L908,425.96 L909.3,426.21 L910.6,425.98 L911.9,427.2 L913.2,426.32 L914.5,426.04 L915.8,427.77 L917.1,428.87 L918.4,427.03 L919.7,428.6 L921,427.81 L922.3,429.32 L923.6,428.57 L924.9,427.66 L926.2,427.64 L927.5,427.3 L928.8,429 L930.1,428.96 L931.4,428.59 L932.7,428.97 L934,428.26 L935.3,429.13 L936.6,426.54 L937.9,428.58 L939.2,426.22 L940.5,425.89 L941.8,424.05 L943.1,423.36 L944.4,421.64 L945.7,419.53 L947,418.03 L948.3,418.36 L949.6,418.89 L950.9,417.53 L952.2,418.69 L953.5,419.4 L954.8,417.63 L956.1,416.68 L957.4,416.51 L958.7,418.02 L960,418.69 L961.3,420.41 L962.6,420.88 L963.9,419.59 L965.2,420.03 L966.5,420.86 L967.8,420.68 L969.1,421.51 L970.4,421.17 L971.7,420.47 L973,417.59 L974.3,418.73 L975.6,416.15 L976.9,415.8 L978.2,416.13 L979.5,413.42 L980.8,412.8 L982.1,414.72 L983.4,412.57 L984.7,412.37 L986,412.67 L987.3,412.71 L988.6,410.76 L989.9,412.01 L991.2,412.53 L992.5,412.88 L993.8,412.04 L995.1,413.19 L996.4,414.32 L997.7,412.46 L999,412.62 L1000.3,410.83 L1001.6,410.91 L1002.9,411.93 L1004.2,410.02 L1005.5,412.35 L1006.5,411 L1006.5,446.5 Z" fill="#edf0f3"/>
<g font-size="11.8" fill="#848b99">
<text x="104" y="463.3" text-anchor="middle">2012</text>
<text x="234.7" y="463.3" text-anchor="middle">2014</text>
<text x="365.3" y="463.3" text-anchor="middle">2016</text>
<text x="496" y="463.3" text-anchor="middle">2018</text>
<text x="626.5" y="463.3" text-anchor="middle">2020</text>
<text x="757" y="463.3" text-anchor="middle">2022</text>
<text x="887.7" y="463.3" text-anchor="middle">2024</text>
</g>
<!-- handle -->
<defs><filter id="sh" x="-60%" y="-40%" width="220%" height="200%"><feGaussianBlur stdDeviation="1.8"/></filter></defs>
<rect x="999" y="417.5" width="14" height="20" rx="7" fill="#000" opacity="0.18" filter="url(#sh)"/>
<rect x="999" y="416" width="14" height="19.6" rx="7" fill="#fff"/>
<rect x="1004" y="422.4" width="1" height="7.6" fill="#8a919e"/>
<rect x="1007" y="422.4" width="1" height="7.6" fill="#8a919e"/>
</svg>
</body></html>
